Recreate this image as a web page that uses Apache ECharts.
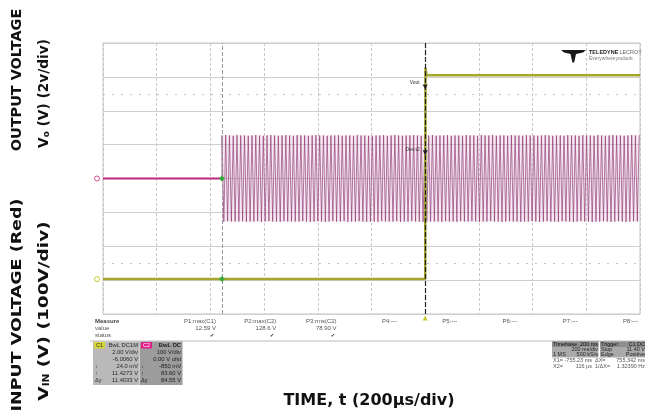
<!DOCTYPE html>
<html><head><meta charset="utf-8">
<script src="https://cdn.jsdelivr.net/npm/echarts@6/dist/echarts.min.js"></script>
<style>html,body{margin:0;padding:0;background:#fff}#c{width:645px;height:416px}</style>
</head><body><div id="c"></div>
<script>
// ---- data (time in µs, 200 µs/div) ----
const timeRange = [0, 2000];
const c2Range = [-400, 400];   // input, 100 V/div
const c1Range = [-2, 14];      // output, 2 V/div, offset -6.006 V
const inPreT = [0, 443];
const inPreV = [0, 0];
const inStartUs = 443;
const inStepUs = 7;
const inPeakV = [
127,-127,128,-126,127,-127,126,-127,128,-127,127,-126,127,-128,126,-127,127,-127,128,-126,
127,-128,126,-127,127,-126,128,-127,127,-127,126,-128,127,-126,128,-127,127,-127,126,-127,
128,-127,127,-126,127,-127,126,-128,127,-127,128,-126,127,-127,127,-128,126,-127,127,-126,
127,-127,128,-127,126,-126,127,-128,127,-127,126,-127,128,-126,127,-127,127,-128,126,-127,
126,-127,127,-128,127,-126,128,-127,126,-127,127,-127,128,-126,127,-128,126,-127,127,-127,
127,-126,128,-127,127,-127,126,-128,127,-126,127,-127,128,-127,126,-127,127,-128,127,-126,
128,-127,126,-127,127,-128,127,-126,126,-127,128,-127,127,-126,127,-127,126,-128,128,-127,
127,-127,127,-126,128,-127,126,-127,127,-128,127,-127,126,-126,128,-127,127,-127,127,-128,
126,-127,128,-127,127,-126,127,-127,126,-128,127,-127,128,-126,127,-127,126,-127,127,-128,
127,-126,126,-127,128,-127,127,-128,127,-127,126,-126,128,-127,127,-127,127,-128,126,-127,
128,-127,127,-126,126,-127,127,-128,128,-127,127,-126,127,-127,126,-128,127,-127,128,-126,
127,-127,128
];
const outT = [0, 1200, 1201, 1205, 2000];
const outV = [0.06, 0.06, 12.55, 12.1, 12.1];
const triggerT = 443;
const cursorT = 1200;
const cursorLevelC1 = 11.4;
const cursorLevelC2 = 76;
const refRowsV = [250, -250];
const measureLabels = ['P1:max(C1)','P2:max(C2)','P3:rms(C2)','P4:---','P5:---','P6:---','P7:---','P8:---'];
const measureValues = ['12.59 V','128.6 V','78.90 V'];
const c1Info = ['BwL DC1M','2.00 V/div','-6.0060 V','24.0 mV','11.4273 V','11.4033 V'];
const c2Info = ['BwL DC','100 V/div','0.00 V ofst','-850 mV','83.60 V','84.55 V'];
const infoSyms = ['','','','\u2193','\u2191','\u0394y'];

// ---- build series data ----
const preData = inPreT.map((t, i) => [t, inPreV[i]]);
const burstData = [[inStartUs, 0]].concat(inPeakV.map((v, i) => [inStartUs + i * inStepUs, v]));
const burstEnd = inStartUs + (inPeakV.length - 1) * inStepUs;
const outData = outT.map((t, i) => [t, outV[i]]);

const tiny = 'Liberation Sans, Arial, sans-serif';
const g = [];
function txt(x, y, s, opt) {
  opt = opt || {};
  g.push({type:'text', x:x, y:y, silent:true, z:10, style:{text:s, fontFamily:opt.ff||tiny, fontSize:opt.fs||6,
    fontWeight:opt.fw||'normal', fill:opt.fill||'#555', align:opt.align||'left', verticalAlign:'middle'}});
}
function rect(x, y, w, h, fill) {
  g.push({type:'rect', silent:true, z:5, shape:{x:x,y:y,width:w,height:h}, style:{fill:fill}});
}
const titleFont = 'DejaVu Sans, sans-serif';
function vtitle(x, y, s, fs, sx, subFs) {
  g.push({type:'text', x:x, y:y, rotation:Math.PI/2, scaleX:sx, silent:true,
    style:{text:s, fontFamily:titleFont, fontWeight:'bold', fontSize:fs, fill:'#111', align:'center', verticalAlign:'middle',
      rich:{s:{fontSize:subFs, fontWeight:'bold', fontFamily:titleFont, fill:'#111', verticalAlign:'bottom', padding:[5,0,0,0]}}}});
}
// left axis titles
vtitle(17, 80, 'OUTPUT VOLTAGE', 14, 1.03, 9);
vtitle(17, 305, 'INPUT VOLTAGE (Red)', 14, 1.25, 9);
vtitle(44, 93.5, 'V{s|o} (V) (2v/div)', 14, 0.98, 9);
vtitle(44, 311, 'V{s|IN} (V) (100V/div)', 14, 1.32, 8);
// bottom title
txt(369, 401, 'TIME, t (200\u00b5s/div)', {ff:titleFont, fw:'bold', fs:16, fill:'#111', align:'center'});

// measure table
txt(95, 321, 'Measure', {fw:'bold', fill:'#444'});
txt(95, 328.5, 'value');
txt(95, 335.5, 'status');
measureLabels.forEach((s, i) => txt(216 + i * 60.3, 321, s, {align:'right'}));
measureValues.forEach((s, i) => {
  txt(216 + i * 60.3, 328.5, s, {align:'right'});
  txt(214 + i * 60.3, 335.5, '\u2714', {align:'right', fill:'#333', fs:5});
});
g.push({type:'line', silent:true, shape:{x1:90,y1:341,x2:645,y2:341}, style:{stroke:'#bbb', lineWidth:1}});
// channel boxes
rect(93, 341.5, 46, 43.5, '#b9b9b9');
rect(139.5, 341.5, 43, 43.5, '#9c9c9c');
rect(94, 342, 11, 6.5, '#d6d636');
rect(141, 342, 11, 6.5, '#e01f8c');
txt(99.5, 345.3, 'C1', {fs:5.5, fill:'#333', align:'center'});
txt(146.5, 345.3, 'C2', {fs:5.5, fill:'#fff', align:'center'});
c1Info.forEach((s, i) => txt(138, 345.3 + i * 7, s, {align:'right', fill:'#2a2a2a', fs:5.8}));
c2Info.forEach((s, i) => txt(181, 345.3 + i * 7, s, {align:'right', fill:'#1a1a1a', fs:5.8, fw: i === 0 ? 'bold' : 'normal'}));
infoSyms.forEach((s, i) => { if (s) { txt(95, 345.3 + i * 7, s, {fill:'#2a2a2a', fs:5.5}); txt(141, 345.3 + i * 7, s, {fill:'#1a1a1a', fs:5.5}); } });
// timebase / trigger
rect(552, 341.5, 46.5, 16, '#aaaaaa');
rect(600, 341.5, 45, 16, '#aaaaaa');
rect(552, 341.5, 46.5, 5.5, '#8e8e8e');
rect(600, 341.5, 45, 5.5, '#8e8e8e');
txt(553, 344.3, 'Timebase', {fs:5.5, fill:'#111'});
txt(598, 344.3, '200 ms', {fs:5.5, fill:'#111', align:'right'});
txt(598, 349.6, '200 ms/div', {fs:5.5, fill:'#222', align:'right'});
txt(553, 354.8, '1 MS', {fs:5.5, fill:'#222'});
txt(598, 354.8, '500 kS/s', {fs:5.5, fill:'#222', align:'right'});
txt(601, 344.3, 'Trigger', {fs:5.5, fill:'#111'});
txt(645, 344.3, 'C1 DC', {fs:5.5, fill:'#111', align:'right'});
txt(601, 349.6, 'Stop', {fs:5.5, fill:'#222'});
txt(645, 349.6, '11.40 V', {fs:5.5, fill:'#222', align:'right'});
txt(601, 354.8, 'Edge', {fs:5.5, fill:'#222'});
txt(645, 354.8, 'Positive', {fs:5.5, fill:'#222', align:'right'});
txt(553, 360.5, 'X1=', {fs:5.5});
txt(592, 360.5, '-755.23 ms', {fs:5.5, align:'right'});
txt(595, 360.5, '\u0394X=', {fs:5.5});
txt(645, 360.5, '755.342 ms', {fs:5.5, align:'right'});
txt(553, 366.5, 'X2=', {fs:5.5});
txt(592, 366.5, '116 \u00b5s', {fs:5.5, align:'right'});
txt(595, 366.5, '1/\u0394X=', {fs:5.5});
txt(645, 366.5, '1.32390 Hz', {fs:5.5, align:'right'});
// logo
g.push({type:'polygon', silent:true, z:10, shape:{points:[[561,50],[586,50],[583,52.5],[576,54],[574.2,62.5],[572.4,62.5],[570.5,54],[564,52.5]]}, style:{fill:'#1a1a1a'}});
txt(589, 52.5, 'TELEDYNE', {fw:'bold', fs:5.5, fill:'#222'});
txt(642, 52.5, 'LECROY', {fs:5.5, fill:'#666', align:'right'});
txt(589, 58.5, 'Everywhereyoulook', {fs:5, fill:'#777'});

const chart = echarts.init(document.getElementById('c'), null, {renderer:'canvas'});
chart.setOption({
  animation:false,
  backgroundColor:'#fff',
  grid:{left:103, right:5, top:43, bottom:102, show:true, borderColor:'#c4c4c4', borderWidth:1},
  xAxis:{type:'value', min:timeRange[0], max:timeRange[1], interval:200,
    axisLine:{show:false}, axisTick:{show:false}, axisLabel:{show:false},
    splitLine:{show:true, lineStyle:{color:'#c8c8c8', type:[3,2], width:1}}},
  yAxis:[
    {type:'value', min:c2Range[0], max:c2Range[1], interval:100,
      axisLine:{show:false}, axisTick:{show:false}, axisLabel:{show:false},
      splitLine:{show:true, lineStyle:{color:'#cfcfcf', width:1}}},
    {type:'value', min:c1Range[0], max:c1Range[1], interval:2,
      axisLine:{show:false}, axisTick:{show:false}, axisLabel:{show:false}, splitLine:{show:false}}
  ],
  graphic:g,
  series:[
    {type:'line', yAxisIndex:0, data:burstData, symbol:'none', silent:true, z:2,
      lineStyle:{color:'#8a3470', width:1, opacity:0.65},
      markArea:{silent:true, itemStyle:{color:'rgba(228,185,214,0.3)'}, label:{show:false},
        data:[[{xAxis:inStartUs, yAxis:Math.min(...inPeakV)}, {xAxis:burstEnd, yAxis:Math.max(...inPeakV)}]]},
      markLine:{silent:true, symbol:'none', label:{show:false},
        data: refRowsV.map(v => ({yAxis:v, lineStyle:{color:'#c4c4c4', type:[2,7], width:1}}))}},
    {type:'line', yAxisIndex:0, data:preData, symbol:'none', silent:true, z:3,
      lineStyle:{color:'#c0287a', width:2},
      markPoint:{silent:true, data:[
        {coord:[timeRange[0], inPreV[0]], symbol:'circle', symbolSize:5, symbolOffset:[-6,0], itemStyle:{color:'#fff', borderColor:'#d0508f', borderWidth:1}, label:{show:false}},
        {coord:[triggerT, inPreV[1]], symbol:'diamond', symbolSize:6, itemStyle:{color:'#3aa83a'}, label:{show:false}}
      ]}},
    {type:'line', yAxisIndex:1, data:outData, symbol:'none', silent:true, z:4,
      lineStyle:{color:'#a6a62a', width:2.5},
      markPoint:{silent:true, data:[
        {coord:[timeRange[0], outV[0]], symbol:'circle', symbolSize:5, symbolOffset:[-6,0], itemStyle:{color:'#fff', borderColor:'#c8c830', borderWidth:1}, label:{show:false}},
        {coord:[triggerT, outV[0]], symbol:'diamond', symbolSize:6, itemStyle:{color:'#3aa83a'}, label:{show:false}}
      ]}},
    {type:'line', yAxisIndex:1, data:[], symbol:'none', silent:true, z:8,
      markLine:{silent:true, symbol:'none', label:{show:false}, data:[
        {xAxis:triggerT, lineStyle:{color:'#9a9a9a', type:[4,2], width:1}},
        {xAxis:cursorT, lineStyle:{color:'#222', type:[5,2], width:1.2}}
      ]},
      markPoint:{silent:true, data:[
        {coord:[cursorT, cursorLevelC1], symbol:'triangle', symbolRotate:180, symbolSize:5, itemStyle:{color:'#222'}, label:{show:true, formatter:'Vout', position:'left', distance:3, fontSize:5, color:'#333', offset:[0,-4]}},
        {coord:[cursorT, (cursorLevelC2 - c2Range[0]) / (c2Range[1] - c2Range[0]) * (c1Range[1] - c1Range[0]) + c1Range[0]], symbol:'triangle', symbolRotate:180, symbolSize:5, itemStyle:{color:'#222'}, label:{show:true, formatter:'Dev.t2', position:'left', distance:3, fontSize:5, color:'#333', offset:[0,-3]}},
        {coord:[cursorT, c1Range[0]], symbol:'triangle', symbolSize:5, symbolOffset:[0,4], itemStyle:{color:'#c8c830'}, label:{show:false}}
      ]}}
  ]
});
</script></body></html>
